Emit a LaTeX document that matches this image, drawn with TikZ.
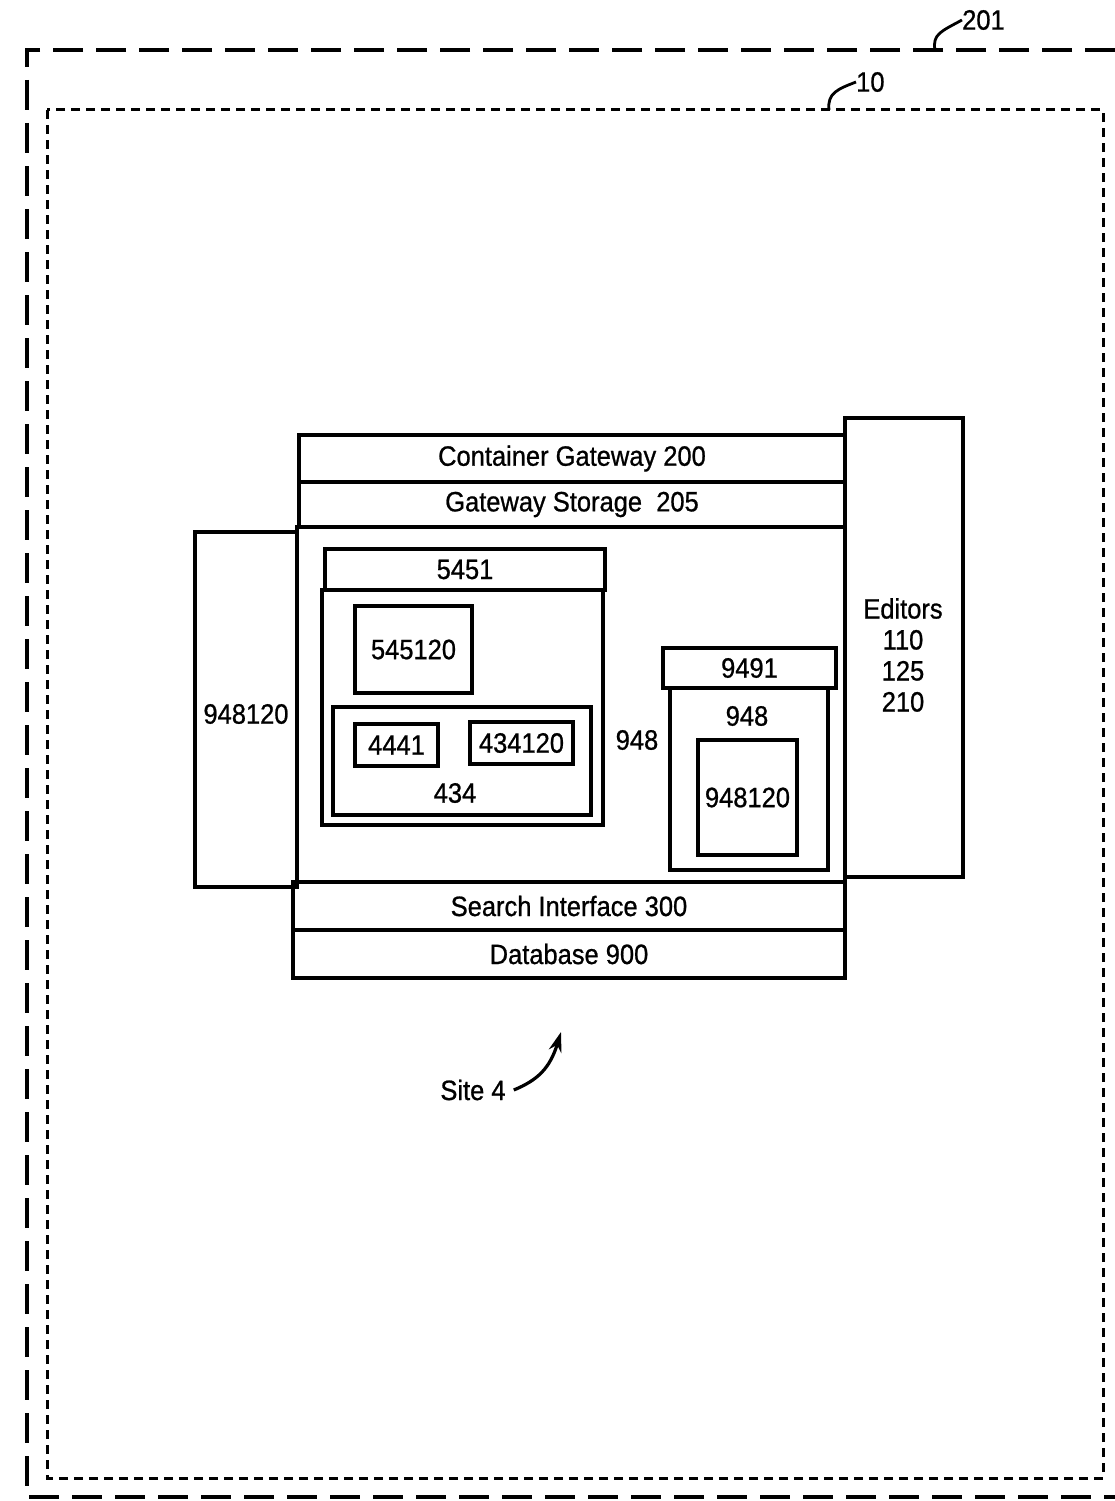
\documentclass[tikz,border=0pt]{standalone}
\usepackage{fontspec}
\setmainfont{Liberation Sans}[FakeStretch=0.91, FakeBold=0.8]
\usepackage{tikz}
\usetikzlibrary{positioning}
\usetikzlibrary{arrows.meta}

\begin{document}
\begin{tikzpicture}[every node/.style={inner sep=0pt, font=\fontsize{28pt}{31pt}\selectfont},
  blk/.style={draw=black, line width=3.4pt, rectangle}]
\useasboundingbox (0pt, 0pt) rectangle (1115pt, -1501pt);
% frames 201 and 10
\draw [line width=3.2pt, dash pattern=on 30pt off 13pt] (1115pt, -50.0pt) -- (27.0pt, -50.0pt) -- (27.0pt, -1497.0pt) -- (1115pt, -1497.0pt);
\draw [line width=3.0pt, dash pattern=on 9pt off 6pt] (47.0pt, -110.0pt) rectangle (1103.0pt, -1478.0pt);
\node (l201) [anchor=west] at (962.0pt, -20.0pt) {201};
\coordinate (c201) at (935.0pt, -50.0pt);
\draw [line width=2.8pt] (c201) .. controls (932.0pt, -34.0pt) and (942.0pt, -31.0pt) .. (l201.west);
\node (l10) [anchor=west] at (856.0pt, -82.0pt) {10};
\coordinate (c10) at (829.0pt, -110.0pt);
\draw [line width=2.8pt] (c10) .. controls (827.0pt, -93.0pt) and (838.0pt, -89.0pt) .. (l10.west);
% side boxes
\node (lft) [blk, minimum width=102pt, minimum height=355pt] at (246.0pt, -709.5pt) {};
\node (ed) [blk, minimum width=118pt, minimum height=459pt] at (904.0pt, -647.5pt) {};
\node (edt) [align=center] at (903.0pt, -655.0pt) {Editors\\110\\125\\210};
\node (lftt) at (246.0pt, -714.0pt) {948120};
% main column
\node (cg) [blk, minimum width=546pt, minimum height=47pt] at (572.0pt, -458.5pt) {Container Gateway 200};
\node (gs) [blk, minimum width=546pt, minimum height=45pt] at (572.0pt, -504.5pt) {Gateway Storage\ \ 205};
\node (body) [blk, minimum width=548pt, minimum height=355pt] at (571.0pt, -704.5pt) {};
\node (si) [blk, minimum width=552pt, minimum height=48pt] at (569.0pt, -906.0pt) {Search Interface 300};
\node (db) [blk, minimum width=552pt, minimum height=48pt] at (569.0pt, -954.0pt) {Database 900};
% container 5451
\node (h5451) [blk, minimum width=280pt, minimum height=41pt] at (465.0pt, -569.5pt) {5451};
\node (b5451) [blk, minimum width=281pt, minimum height=235pt] at (462.5pt, -707.5pt) {};
\node (n545120) [blk, minimum width=117pt, minimum height=87pt] at (413.5pt, -649.5pt) {545120};
\node (b434) [blk, minimum width=258pt, minimum height=108pt] at (462.0pt, -761.0pt) {};
\node (n4441) [blk, minimum width=83pt, minimum height=42pt] at (396.5pt, -745.0pt) {4441};
\node (n434120) [blk, minimum width=103pt, minimum height=42pt] at (521.5pt, -743.0pt) {434120};
\node (t434) at (455.0pt, -793.0pt) {434};
\node (t948a) at (637.0pt, -740.0pt) {948};
% container 948
\node (h9491) [blk, minimum width=173pt, minimum height=40pt] at (749.5pt, -668.0pt) {9491};
\node (b948) [blk, minimum width=158pt, minimum height=182pt] at (749.0pt, -779.0pt) {};
\node (t948b) at (747.0pt, -716.0pt) {948};
\node (n948120) [blk, minimum width=99pt, minimum height=115pt] at (747.5pt, -797.5pt) {948120};
% site label
\node (site) at (473.0pt, -1090.0pt) {Site 4};
\coordinate (stip) at (561.0pt, -1032.0pt);
\draw [line width=3.2pt, -{Stealth[length=20pt, width=13pt]}] ([xshift=8pt]site.east) .. controls (538.0pt, -1080.0pt) and (550.0pt, -1068.0pt) .. (stip);
\end{tikzpicture}
\end{document}
